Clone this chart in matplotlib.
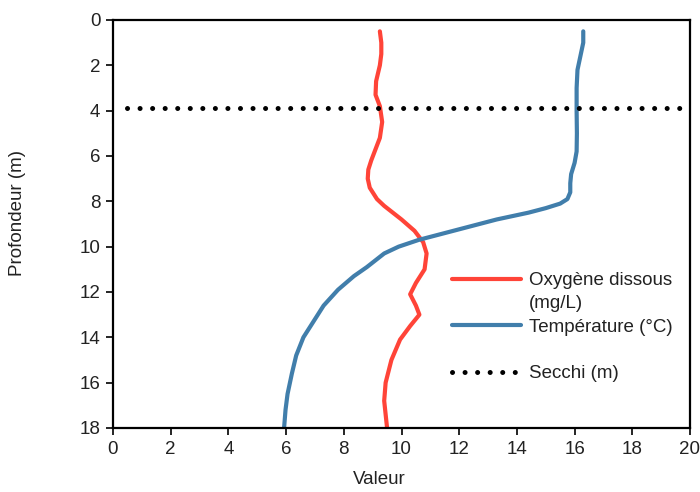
import matplotlib
matplotlib.use("Agg")
import matplotlib.pyplot as plt
from matplotlib.lines import Line2D

plt.rcParams['font.family'] = ['Liberation Sans', 'DejaVu Sans']

# Data
oxy_depth = [0.5, 1.0, 1.5, 2.0, 2.7, 3.3, 3.8, 4.5, 5.2, 5.7, 6.2, 6.6, 7.0, 7.4, 7.9, 8.2, 8.5, 8.8, 9.3,
             9.8, 10.3, 11.0, 11.6, 12.1, 12.6, 13.0, 13.5, 14.1, 15.0, 16.0, 16.8, 18.0]
oxy_value = [9.25, 9.3, 9.3, 9.25, 9.12, 9.1, 9.25, 9.33, 9.25, 9.1, 8.95, 8.85, 8.83, 8.9, 9.15, 9.4, 9.7, 10.0, 10.45,
             10.75, 10.87, 10.8, 10.5, 10.3, 10.5, 10.62, 10.3, 9.95, 9.65, 9.45, 9.4, 9.5]

temp_depth = [0.5, 1.0, 1.6, 2.2, 3.0, 4.0, 5.0, 5.8, 6.3, 6.8, 7.2, 7.6, 7.9, 8.1, 8.3, 8.5,
              8.8, 9.1, 9.4, 9.7, 10.0, 10.3, 10.6, 10.9, 11.3, 11.9, 12.6, 13.3, 14.0,
              14.8, 15.6, 16.5, 17.2, 18.0]
temp_value = [16.3, 16.3, 16.2, 16.1, 16.07, 16.07, 16.08, 16.07, 16.0, 15.88, 15.85, 15.85, 15.75, 15.5, 15.0, 14.4,
              13.3, 12.4, 11.5, 10.6, 9.9, 9.4, 9.1, 8.8, 8.35, 7.8, 7.3, 6.95, 6.6,
              6.35, 6.2, 6.05, 5.98, 5.93]

secchi_x = [0.5, 20]
secchi_depth = [3.9, 3.9]

x_ticks = list(range(0, 21, 2))
y_ticks = list(range(0, 19, 2))

red = '#FF4438'
blue = '#417EAB'
txt = '#222222'
fs = 13.5

fig = plt.figure(figsize=(7.0, 4.92), dpi=100)
ax = fig.add_axes([113/700, 1-428/492, 577/700, 408/492])

ax.plot(oxy_value, oxy_depth, color=red, lw=3, solid_capstyle='round', solid_joinstyle='round')
ax.plot(temp_value, temp_depth, color=blue, lw=3, solid_capstyle='round', solid_joinstyle='round')
ax.plot(secchi_x, secchi_depth, color='black', lw=3.6, linestyle=(0, (0.01, 2.5)),
        dash_capstyle='round')

ax.set_xlim(0, 20)
ax.set_ylim(18, 0)
ax.set_xticks(x_ticks)
ax.set_yticks(y_ticks)
ax.tick_params(direction='out', length=5, width=1.2, labelsize=fs, labelcolor=txt, pad=4)
for s in ax.spines.values():
    s.set_linewidth(1.6)
ax.set_xlabel('Valeur', fontsize=fs, color=txt)
ax.set_ylabel('Profondeur (m)', fontsize=fs, color=txt)
ax.xaxis.set_label_coords(0.461, -0.127)
ax.yaxis.set_label_coords(-0.165, 0.527)
ax.xaxis.label.set_va('center')
ax.yaxis.label.set_va('center')

handles = [
    Line2D([], [], color=red, lw=3, solid_capstyle='round'),
    Line2D([], [], color='none'),
    Line2D([], [], color=blue, lw=3, solid_capstyle='round'),
    Line2D([], [], color='none'),
    Line2D([], [], color='black', lw=3.6, linestyle=(0, (0.01, 2.5)), dash_capstyle='round'),
]
labels = ['Oxygène dissous', '(mg/L)', 'Température (°C)', ' ', 'Secchi (m)']
leg = ax.legend(handles, labels, frameon=False, fontsize=fs, loc='upper left',
                bbox_to_anchor=(452/700, 1-272/492), bbox_transform=fig.transFigure,
                borderpad=0, borderaxespad=0, handlelength=3.7, handletextpad=0.4,
                labelspacing=0.33)
for t in leg.get_texts():
    t.set_color(txt)
    t.set_clip_box(ax.bbox)
    t.set_clip_on(True)

fig.savefig('out.png', dpi=100)
